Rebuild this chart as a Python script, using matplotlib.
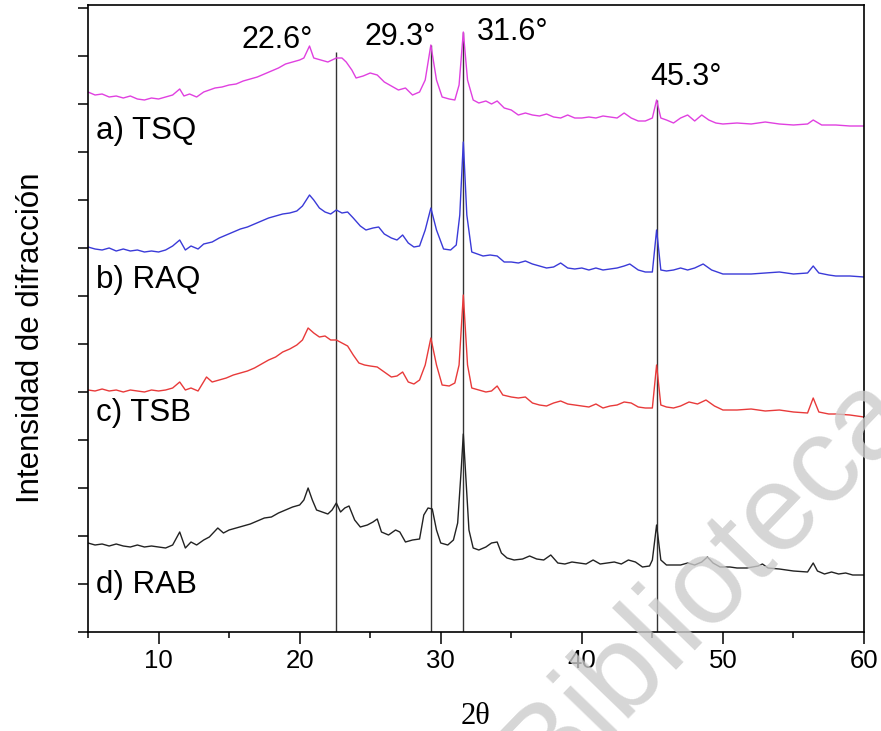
import matplotlib
matplotlib.use("Agg")
import matplotlib.pyplot as plt
from matplotlib.ticker import MultipleLocator

# XRD patterns, intensity in arbitrary units (traces already offset)
tsq_x = [5.0, 5.5, 6.0, 6.5, 7.0, 7.5, 8.0, 8.5, 9.0, 9.5, 10.0, 10.5, 11.0, 11.5, 11.8,
         12.2, 12.7, 13.2, 13.6, 14.0, 14.5, 15.0, 15.5, 16.0, 16.5, 17.0, 17.5, 18.0, 18.5,
         19.0, 19.5, 20.0, 20.3, 20.7, 21.0, 21.5, 22.0, 22.3, 22.6, 23.0, 23.3, 23.7, 24.0,
         24.5, 25.0, 25.5, 26.0, 26.5, 27.0, 27.5, 28.0, 28.5, 28.9, 29.3, 29.7, 30.1, 30.6,
         31.0, 31.3, 31.6, 31.9, 32.3, 32.7, 33.2, 33.6, 34.0, 34.5, 35.0, 35.5, 36.0, 36.5,
         37.0, 37.5, 38.0, 38.5, 39.0, 39.5, 40.0, 40.5, 41.0, 41.5, 42.0, 42.5, 43.0, 43.5,
         44.0, 44.5, 45.0, 45.3, 45.6, 46.0, 46.5, 47.0, 47.5, 48.0, 48.5, 49.0, 49.5, 50.0,
         51.0, 52.0, 53.0, 54.0, 55.0, 56.0, 56.4, 57.0, 58.0, 59.0, 60.0]
tsq_y = [540, 537, 538, 535, 536, 534, 536, 533, 532, 534, 533, 535, 537, 543, 536,
         538, 535, 540, 542, 544, 545, 547, 548, 551, 553, 555, 558, 561, 564,
         568, 570, 572, 574, 586, 574, 572, 570, 572, 574, 574, 570, 562, 554,
         556, 559, 557, 550, 546, 542, 544, 537, 540, 552, 587, 552, 535, 533,
         532, 547, 600, 552, 532, 529, 531, 528, 531, 524, 522, 517, 519, 517,
         516, 518, 515, 514, 517, 514, 514, 515, 514, 516, 515, 514, 519, 514,
         511, 511, 514, 532, 514, 512, 509, 514, 517, 511, 517, 512, 509, 508,
         509, 508, 510, 508, 507, 508, 512, 507, 507, 506, 506]

raq_x = [5.0, 5.5, 6.0, 6.5, 7.0, 7.5, 8.0, 8.5, 9.0, 9.5, 10.0, 10.5, 11.0, 11.5, 11.9,
         12.3, 12.8, 13.2, 13.8, 14.3, 14.8, 15.3, 15.8, 16.3, 16.8, 17.3, 17.8, 18.3, 18.8,
         19.3, 19.8, 20.2, 20.7, 21.0, 21.4, 21.8, 22.2, 22.6, 23.0, 23.4, 23.8, 24.3, 24.7,
         25.2, 25.6, 26.0, 26.5, 26.9, 27.3, 27.7, 28.1, 28.5, 28.9, 29.3, 29.7, 30.2, 30.7,
         31.1, 31.35, 31.6, 31.85, 32.2, 32.6, 33.0, 33.5, 34.0, 34.5, 35.0, 35.5, 36.0, 36.5,
         37.0, 37.5, 38.0, 38.5, 39.0, 39.5, 40.0, 40.5, 41.0, 41.5, 42.0, 42.5, 43.0, 43.4,
         44.0, 44.5, 45.0, 45.3, 45.6, 46.0, 46.5, 47.0, 47.5, 48.0, 48.6, 49.2, 50.0, 51.0,
         52.0, 53.0, 54.0, 55.0, 56.0, 56.4, 56.8, 57.5, 58.0, 59.0, 60.0]
raq_y = [385, 383, 382, 384, 381, 383, 381, 382, 380, 381, 380, 382, 386, 392, 382,
         386, 383, 388, 390, 394, 397, 400, 403, 405, 408, 411, 414, 416, 418,
         419, 421, 426, 437, 432, 424, 420, 418, 422, 419, 420, 414, 406, 402,
         404, 405, 398, 394, 392, 397, 389, 385, 386, 402, 424, 402, 383, 382,
         387, 417, 490, 417, 380, 378, 376, 377, 376, 370, 370, 369, 371, 368,
         366, 364, 365, 369, 364, 363, 364, 362, 364, 362, 363, 364, 366, 368,
         362, 360, 360, 402, 362, 361, 362, 364, 362, 364, 368, 362, 358, 358,
         358, 359, 360, 358, 359, 366, 359, 357, 356, 356, 355]

tsb_x = [5.0, 5.5, 6.0, 6.5, 7.0, 7.5, 8.0, 8.5, 9.0, 9.5, 10.0, 10.5, 11.0, 11.5, 11.9,
         12.3, 12.8, 13.4, 13.8, 14.3, 14.8, 15.3, 15.8, 16.3, 16.8, 17.3, 17.8, 18.3, 18.8,
         19.3, 19.8, 20.2, 20.6, 21.0, 21.4, 21.8, 22.2, 22.6, 23.0, 23.4, 23.8, 24.2, 24.6,
         25.0, 25.5, 26.0, 26.5, 26.9, 27.3, 27.7, 28.1, 28.5, 28.9, 29.3, 29.7, 30.1, 30.6,
         31.0, 31.3, 31.6, 31.9, 32.2, 32.7, 33.2, 33.6, 34.0, 34.4, 35.0, 35.5, 36.0, 36.5,
         37.0, 37.5, 38.0, 38.5, 39.0, 39.5, 40.0, 40.5, 41.0, 41.5, 42.0, 42.5, 43.0, 43.5,
         44.0, 44.5, 45.0, 45.3, 45.6, 46.0, 46.5, 47.0, 47.6, 48.2, 48.8, 49.4, 50.0, 51.0,
         52.0, 53.0, 54.0, 55.0, 56.0, 56.4, 56.8, 57.5, 58.0, 59.0, 60.0]
tsb_y = [242, 241, 243, 241, 242, 240, 242, 241, 240, 242, 241, 242, 244, 250, 242,
         244, 241, 255, 250, 252, 254, 257, 259, 261, 264, 268, 272, 275, 280,
         283, 287, 292, 304, 299, 295, 296, 292, 292, 289, 286, 277, 269, 267,
         266, 265, 260, 255, 256, 260, 250, 248, 252, 267, 294, 267, 247, 246,
         249, 267, 337, 267, 244, 242, 240, 241, 246, 237, 235, 234, 235, 229,
         227, 226, 229, 231, 228, 227, 226, 225, 228, 224, 226, 227, 230, 229,
         225, 224, 224, 267, 227, 225, 224, 226, 230, 228, 232, 226, 222, 222,
         223, 221, 222, 220, 219, 234, 220, 218, 218, 217, 215]

rab_x = [5.0, 5.5, 6.0, 6.5, 7.0, 7.5, 8.0, 8.5, 9.0, 9.5, 10.0, 10.5, 11.0, 11.5, 11.9,
         12.3, 12.7, 13.2, 13.6, 14.2, 14.6, 15.0, 15.5, 16.0, 16.5, 17.0, 17.5, 18.0, 18.5,
         19.0, 19.5, 20.0, 20.3, 20.6, 20.9, 21.2, 21.6, 22.0, 22.3, 22.6, 22.9, 23.2, 23.5,
         23.9, 24.3, 24.8, 25.2, 25.5, 25.8, 26.3, 26.8, 27.1, 27.5, 28.0, 28.5, 28.8, 29.1,
         29.4, 29.7, 30.0, 30.5, 30.9, 31.2, 31.45, 31.6, 31.75, 32.0, 32.3, 32.7, 33.2, 33.6,
         34.0, 34.3, 34.7, 35.2, 35.8, 36.3, 36.8, 37.3, 37.8, 38.3, 38.8, 39.3, 39.8, 40.3,
         40.8, 41.3, 41.8, 42.3, 42.8, 43.3, 43.8, 44.3, 44.8, 45.0, 45.3, 45.6, 46.0, 46.5,
         47.0, 47.5, 48.0, 48.5, 48.9, 49.3, 49.8, 50.5, 51.0, 51.7, 52.5, 52.8, 53.2, 54.0,
         55.0, 56.0, 56.4, 56.7, 57.2, 57.7, 58.2, 58.7, 59.2, 60.0]
rab_y = [89, 87, 88, 86, 88, 86, 85, 87, 85, 86, 85, 84, 87, 100, 84,
         90, 87, 92, 95, 104, 99, 102, 104, 106, 108, 111, 114, 115, 119,
         122, 125, 127, 132, 144, 132, 122, 120, 118, 122, 129, 120, 124, 126,
         112, 105, 107, 110, 113, 100, 97, 102, 100, 90, 92, 93, 117, 124,
         123, 102, 89, 87, 92, 109, 162, 198, 162, 102, 84, 82, 85, 89,
         90, 79, 74, 72, 73, 76, 73, 72, 77, 69, 68, 70, 69, 68,
         72, 68, 69, 70, 68, 72, 70, 65, 66, 72, 107, 72, 67, 67,
         67, 69, 67, 70, 75, 69, 65, 65, 64, 64, 66, 68, 64, 63,
         61, 60, 69, 61, 58, 60, 58, 59, 57, 57]

series = [
    ("a) TSQ", tsq_x, tsq_y, "#e040e0", 501),
    ("b) RAQ", raq_x, raq_y, "#3a3ad8", 352),
    ("c) TSB", tsb_x, tsb_y, "#e83a3a", 219),
    ("d) RAB", rab_x, rab_y, "#222222", 47),
]

peak_pos = [22.6, 29.3, 31.6, 45.3]
peak_top = [580, 587, 600, 532]
peak_labels = ["22.6°", "29.3°", "31.6°", "45.3°"]
label_xy = [(18.4, 592), (27.1, 595), (35.1, 600), (47.4, 555)]

fig = plt.figure(figsize=(8.81, 7.31), dpi=100)
ax = fig.add_axes([88 / 881, 99 / 731, 776 / 881, 627 / 731])
ax.patch.set_alpha(0)

font = "Liberation Sans"

ax.vlines(peak_pos, 0, peak_top, colors="#333333", linewidth=1.0, zorder=1)
for name, xs, ys, col, ly in series:
    ax.plot(xs, ys, color=col, linewidth=1.0, zorder=2)
    ax.text(5.6, ly, name, fontsize=22.5, family=font, ha="left", va="center")

for lab, (lx, ly) in zip(peak_labels, label_xy):
    ax.text(lx, ly, lab, fontsize=22, family=font, ha="center", va="center")

ax.set_xlim(5, 60)
ax.set_ylim(0, 627)
ax.xaxis.set_major_locator(MultipleLocator(10))
ax.xaxis.set_minor_locator(MultipleLocator(5))
ax.yaxis.set_major_locator(MultipleLocator(48))
ax.set_yticklabels([])
ax.tick_params(axis="x", which="major", direction="out", length=8.5, width=1.1,
               labelsize=18.5, pad=4)
ax.tick_params(axis="x", which="minor", direction="out", length=4.5, width=1.1)
ax.tick_params(axis="y", direction="out", length=7, width=1.1, labelleft=False)
for lbl in ax.get_xticklabels():
    lbl.set_family(font)
for sp in ax.spines.values():
    sp.set_linewidth(1.2)

fig.text(31 / 881, 1 - 338 / 731, "Intensidad de difracción", rotation=90,
         fontsize=22.5, family=font, ha="center", va="center")
fig.text(476 / 881, 1 - 716 / 731, "2θ", fontsize=22, family="Liberation Serif",
         ha="center", va="center")

# faint watermark across the lower right corner
fig.text(545 / 881, 1 - 795 / 731, "Biblioteca", fontsize=88, family=font,
         color="#cccccc", alpha=0.8, rotation=46, rotation_mode="anchor",
         ha="left", va="baseline", zorder=0)

fig.savefig("out.png", dpi=100)
